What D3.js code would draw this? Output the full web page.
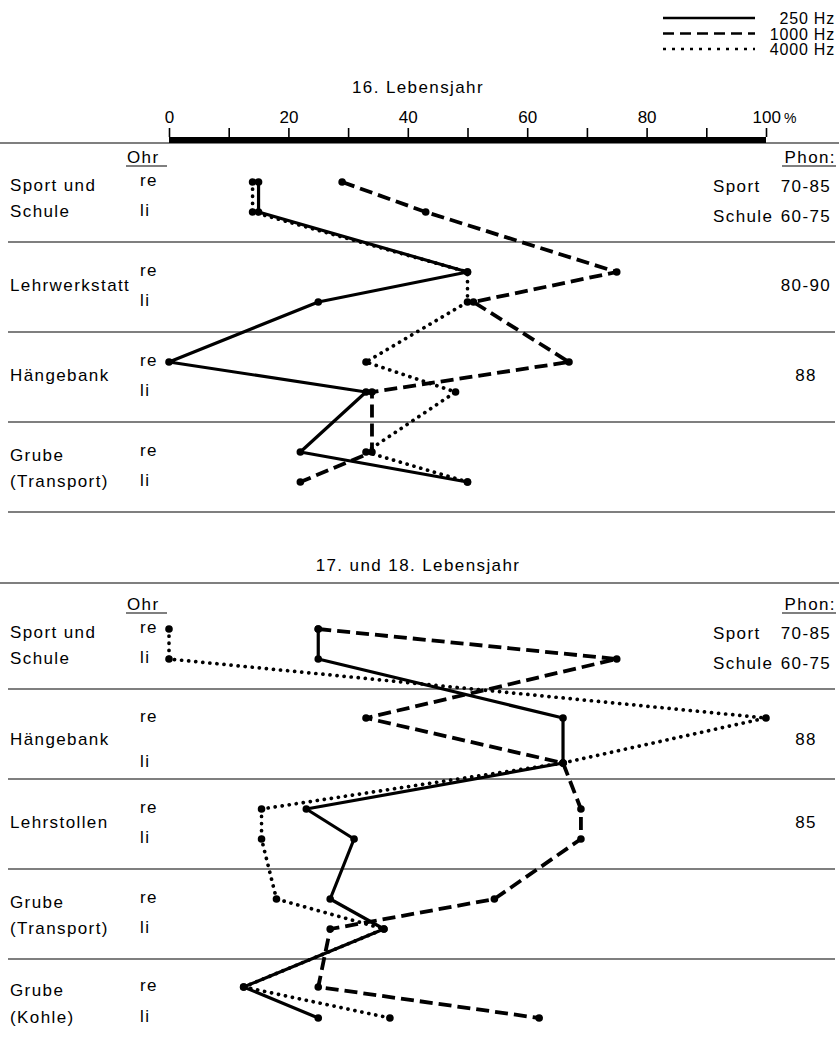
<!DOCTYPE html>
<html><head><meta charset="utf-8">
<script src="https://cdn.jsdelivr.net/npm/d3@7"></script>
<style>body{margin:0;background:#fff}svg{display:block}</style>
</head><body><svg id="c" width="839" height="1042"></svg>
<script>
// ---------- data ----------
const percentTicks = [0,10,20,30,40,50,60,70,80,90,100];
const frequencies = ["250 Hz", "1000 Hz", "4000 Hz"];
const ears = ["re", "li"];

const title16 = "16. Lebensjahr";
const groups16 = [["Sport und", "Schule"], ["Lehrwerkstatt"], ["Hängebank"], ["Grube", "(Transport)"]];
const phon16 = [[["Sport", "70-85"], ["Schule", "60-75"]], [["", "80-90"]], [["", "88"]], []];
// order: group1 re, group1 li, group2 re, group2 li, ...
const hz250_16  = [15, 15, 50, 25, 0, 33, 22, 50];
const hz1000_16 = [29, 43, 75, 51, 67, 34, 34, 22];
const hz4000_16 = [14, 14, 50, 50, 33, 48, 33, 50];

const title1718 = "17. und 18. Lebensjahr";
const groups1718 = [["Sport und", "Schule"], ["Hängebank"], ["Lehrstollen"], ["Grube", "(Transport)"], ["Grube", "(Kohle)"]];
const phon1718 = [[["Sport", "70-85"], ["Schule", "60-75"]], [["", "88"]], [["", "85"]], [], []];
const hz250_1718  = [25, 25, 66, 66, 23, 31, 27, 36, 12.5, 25];
const hz1000_1718 = [25, 75, 33, 66, 69, 69, 54.5, 27, 25, 62];
const hz4000_1718 = [0, 0, 100, 66, 15.5, 15.5, 18, 36, 12.5, 37];

// ---------- styles ----------
const FONT = "'Liberation Sans', Arial, Helvetica, sans-serif";
const styles = {
  "250 Hz":  {w: 3.2, dash: null, cap: "butt"},
  "1000 Hz": {w: 3.8, dash: "13 6", cap: "butt"},
  "4000 Hz": {w: 3.7, dash: "0.1 7", cap: "round"}
};

const svg = d3.select("#c");
svg.append("rect").attr("width", 839).attr("height", 1042).attr("fill", "#fff");
const g = svg.append("g").attr("font-family", FONT).attr("font-size", 17)
  .attr("letter-spacing", 1.4).attr("fill", "#000");

const x = d3.scaleLinear().domain([0, 100]).range([169, 766]);

// ---------- legend ----------
const legY = d3.scalePoint().domain(frequencies).range([18, 49]);
frequencies.forEach(f => {
  g.append("line").attr("x1", 663).attr("x2", 755).attr("y1", legY(f)).attr("y2", legY(f))
    .attr("stroke", "#000").attr("stroke-width", f === "4000 Hz" ? 2.6 : 2.6)
    .attr("stroke-dasharray", f === "4000 Hz" ? "3 6" : (f === "1000 Hz" ? "11 6" : null));
  g.append("text").attr("x", 835).attr("y", legY(f) + 6).attr("text-anchor", "end")
    .attr("font-size", 16).attr("letter-spacing", 0.8).text(f);
});

// ---------- axis ----------
svg.append("line").attr("x1", 0).attr("x2", 839).attr("y1", 143).attr("y2", 143)
  .attr("stroke", "#000").attr("stroke-width", 1.2);
svg.append("rect").attr("x", x(0)).attr("width", x(100) - x(0)).attr("y", 137).attr("height", 6).attr("fill", "#000");
const axis = d3.axisTop(x).tickValues(percentTicks).tickSize(9).tickPadding(5)
  .tickFormat(d => d % 20 === 0 ? d : "");
const axG = svg.append("g").attr("transform", "translate(0,137)").call(axis);
axG.select(".domain").remove();
axG.selectAll(".tick line").attr("stroke", "#000").attr("stroke-width", 1.6);
axG.selectAll(".tick text").attr("font-family", FONT).attr("font-size", 17).attr("fill", "#000");
axG.selectAll(".tick").filter(d => d === 100).select("text")
  .attr("text-anchor", "start").attr("dx", -14)
  .append("tspan").attr("font-size", 14).attr("dx", 3).text("%");

// ---------- panels ----------
function panel(opts) {
  const {title, titleY, headerLineY, bandStart, groups, phon, series, offsets, bottomLine} = opts;
  const keys = groups.map(d => d.join(" "));
  const band = d3.scaleBand().domain(keys).range([bandStart, bandStart + 90 * keys.length]);
  const yOf = (gi, ei) => band(keys[gi]) + (offsets[gi] || [30, 60])[ei];

  g.append("text").attr("x", 418).attr("y", titleY).attr("text-anchor", "middle").text(title);
  if (headerLineY) {
    g.append("line").attr("x1", 0).attr("x2", 839).attr("y1", headerLineY).attr("y2", headerLineY)
      .attr("stroke", "#000").attr("stroke-width", 1.2);
  }
  const hdrY = bandStart + 11;
  g.append("text").attr("x", 127).attr("y", hdrY).text("Ohr");
  g.append("line").attr("x1", 126).attr("x2", 167).attr("y1", hdrY + 3).attr("y2", hdrY + 3).attr("stroke", "#000").attr("stroke-width", 1.2);
  g.append("text").attr("x", 836).attr("y", hdrY).attr("text-anchor", "end").text("Phon:");
  g.append("line").attr("x1", 782).attr("x2", 836).attr("y1", hdrY + 3).attr("y2", hdrY + 3).attr("stroke", "#000").attr("stroke-width", 1.2);

  keys.forEach((k, gi) => {
    const yre = yOf(gi, 0), yli = yOf(gi, 1), mid = (yre + yli) / 2;
    const lines = groups[gi];
    if (lines.length === 1) {
      g.append("text").attr("x", 10).attr("y", mid + 4).text(lines[0]);
    } else {
      g.append("text").attr("x", 10).attr("y", yre + 9).text(lines[0]);
      g.append("text").attr("x", 10).attr("y", yli + 5).text(lines[1]);
    }
    ears.forEach((e, ei) => g.append("text").attr("x", 140).attr("y", yOf(gi, ei) + 4).text(e));
    const ph = phon[gi];
    if (ph.length === 2) {
      [yre, yli].forEach((yy, i) => {
        g.append("text").attr("x", 713).attr("y", yy + 10).text(ph[i][0]);
        g.append("text").attr("x", 806).attr("y", yy + 10).attr("text-anchor", "middle").text(ph[i][1]);
      });
    } else if (ph.length === 1) {
      g.append("text").attr("x", 806).attr("y", mid + 4).attr("text-anchor", "middle").text(ph[0][1]);
    }
    const sepY = band(k) + band.bandwidth();
    if (gi < keys.length - 1 || bottomLine) {
      g.append("line").attr("x1", 8).attr("x2", 835).attr("y1", sepY).attr("y2", sepY)
        .attr("stroke", "#000").attr("stroke-width", 1.2);
    }
  });

  frequencies.forEach(f => {
    const vals = series[f];
    const pts = vals.map((v, i) => ({v, y: yOf(Math.floor(i / 2), i % 2)}));
    const s = styles[f];
    const line = d3.line().x(d => x(d.v)).y(d => d.y);
    g.append("path").datum(pts).attr("d", line).attr("fill", "none").attr("stroke", "#000")
      .attr("stroke-width", s.w).attr("stroke-dasharray", s.dash).attr("stroke-linecap", s.cap)
      .attr("stroke-linejoin", "round");
    g.selectAll(null).data(pts).enter().append("circle")
      .attr("cx", d => x(d.v)).attr("cy", d => d.y).attr("r", 3.8).attr("fill", "#000");
  });
}

panel({
  title: title16, titleY: 93, headerLineY: null, bandStart: 152,
  groups: groups16, phon: phon16,
  series: {"250 Hz": hz250_16, "1000 Hz": hz1000_16, "4000 Hz": hz4000_16},
  offsets: [], bottomLine: true
});
panel({
  title: title1718, titleY: 571, headerLineY: 583, bandStart: 599,
  groups: groups1718, phon: phon1718,
  series: {"250 Hz": hz250_1718, "1000 Hz": hz1000_1718, "4000 Hz": hz4000_1718},
  offsets: [null, [29, 74], null, null, [28, 59]], bottomLine: false
});
</script></body></html>
